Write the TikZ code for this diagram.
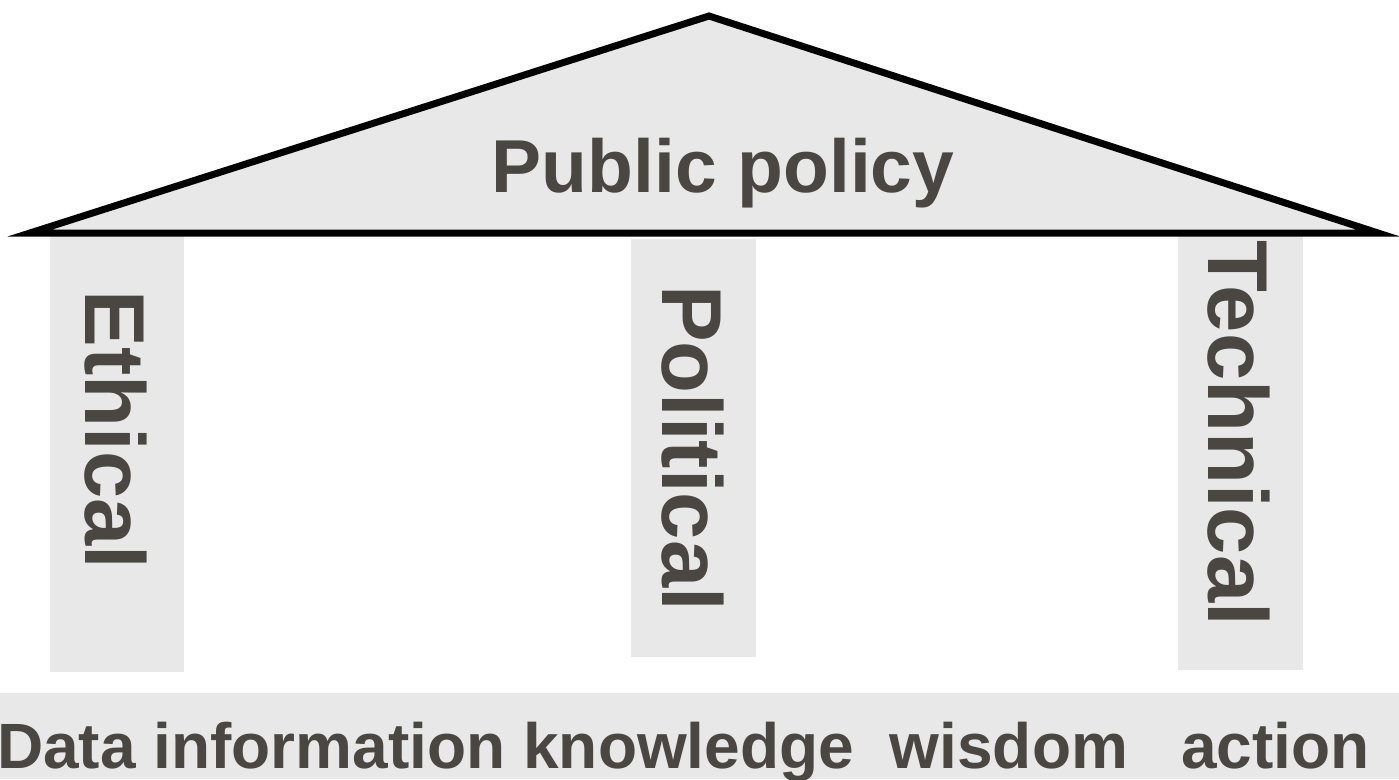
\documentclass[tikz,border=0pt]{standalone}
\usepackage{fontspec}
\setmainfont{Liberation Sans}
\usepackage{tikz}
\usetikzlibrary{positioning}

\definecolor{roofgray}{HTML}{E8E8E8}
\definecolor{inkgray}{HTML}{4A4641}

\tikzset{
	pillar/.style={fill=roofgray, inner sep=0pt, anchor=north west},
	pillarlabel/.style={text=inkgray, rotate=-90, inner sep=0pt,
		font=\fontsize{85}{85}\selectfont\bfseries},
}

\begin{document}
\begin{tikzpicture}[x=1pt,y=-1pt]
		\useasboundingbox (0,0) rectangle (1399,779);

		\node[pillar, minimum width=134pt, minimum height=437pt] (ethp) at (50,235) {};
		\node[pillar, minimum width=125pt, minimum height=418pt] (polp) at (631,239) {};
		\node[pillar, minimum width=125pt, minimum height=434pt] (tecp) at (1178,236) {};

		\node[pillarlabel] (eth) at (116,430) {Ethical};
		\node[pillarlabel] (pol) at (693,448) {Political};
		\node[pillarlabel] (tec) at (1239,433) {Technical};

		\coordinate (rl) at (30,233);
		\coordinate (rt) at (709,16);
		\coordinate (rr) at (1378,233);
		\draw[line width=7pt, fill=roofgray] (rl) -- (rt) -- (rr) -- cycle;
		\node[anchor=base, inner sep=0pt, text=inkgray,
			font=\fontsize{75}{75}\selectfont\bfseries] (roof) at (723,192) {Public policy};

		\node[fill=roofgray, inner sep=0pt, anchor=north west,
			minimum width=1399pt, minimum height=86pt] (ground) at (0,693) {};
		\node[anchor=base west, inner sep=0pt, text=inkgray,
			font=\fontsize{64}{64}\selectfont\bfseries] (steps) at (-3,768)
			{Data information knowledge\ \ wisdom\ \ \ action};
	\end{tikzpicture}
\end{document}
